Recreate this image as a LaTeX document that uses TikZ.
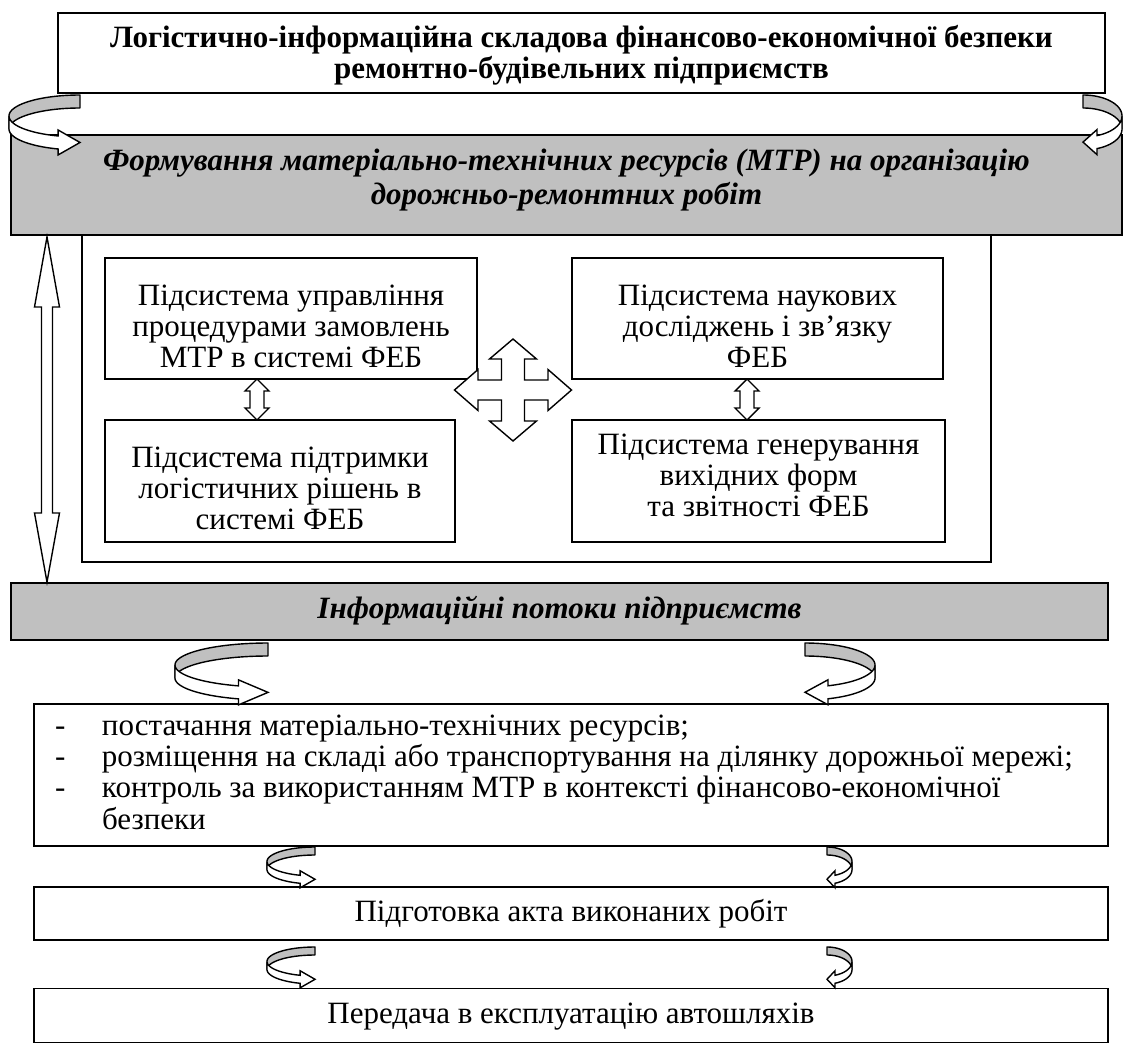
\documentclass[tikz,border=0pt]{standalone}
\usepackage{fontspec}
\setmainfont{Liberation Serif}
\usetikzlibrary{calc}
\definecolor{fillgray}{RGB}{192,192,192}
\tikzset{
  boxw/.style={draw=black, line width=1.6pt, fill=white, inner sep=0pt, outer sep=0pt},
  boxg/.style={draw=black, line width=1.6pt, fill=fillgray, inner sep=0pt, outer sep=0pt},
  txt/.style={inner sep=0pt, outer sep=0pt, font=\fontsize{31}{31.3}\selectfont},
  btxt/.style={inner sep=0pt, outer sep=0pt, font=\fontsize{31}{31}\selectfont\bfseries},
  bitxt/.style={inner sep=0pt, outer sep=0pt, font=\fontsize{31}{34}\selectfont\bfseries\itshape},
  arr/.style={draw=black, line width=1.4pt, fill=white, line join=miter},
  arrg/.style={draw=black, line width=1.4pt, fill=fillgray, line join=round},
}
% #1 cx, #2 cy, #3 a, #4 b, #5 w, #6 end angle, #7 head overhang, #8 side (1 left loop, -1 right loop)
\newcommand\curvarrow[8]{%
  \filldraw[arrg] plot[domain=90:180, samples=40] ({#1+(#8)*#3*cos(\x)},{#2-#4*sin(\x)})
     -- plot[domain=180:90, samples=40] ({#1+(#8)*#3*cos(\x)},{#2-#4*sin(\x)+#5}) -- cycle;
  \filldraw[arr] plot[domain=180:#6, samples=40] ({#1+(#8)*#3*cos(\x)},{#2-#4*sin(\x)})
     -- ++(0,-#7)
     -- ({#1},{#2-#4*sin(#6)+#5/2})
     -- ({#1+(#8)*#3*cos(#6)},{#2-#4*sin(#6)+#5+#7})
     -- ({#1+(#8)*#3*cos(#6)},{#2-#4*sin(#6)+#5})
     -- plot[domain=#6:180, samples=40] ({#1+(#8)*#3*cos(\x)},{#2-#4*sin(\x)+#5}) -- cycle;
}
\begin{document}
\begin{tikzpicture}[x=1pt,y=-1pt]
\useasboundingbox[fill=white] (0,0) rectangle (1124,1044);

% boxes
\node[boxw, minimum width=1047pt, minimum height=80pt] (top) at (581.5,53) {};
\node[boxw, minimum width=909pt, minimum height=327pt] (frame) at (536.5,398.5) {};
\node[boxg, minimum width=1111pt, minimum height=100pt] (form) at (566.5,185) {};
\node[boxw, minimum width=372pt, minimum height=121pt] (A) at (291,318.5) {};
\node[boxw, minimum width=350pt, minimum height=122pt] (B) at (280,481) {};
\node[boxw, minimum width=371pt, minimum height=121pt] (C) at (757.5,318.5) {};
\node[boxw, minimum width=373pt, minimum height=122pt] (D) at (758.5,481) {};
\node[boxg, minimum width=1097pt, minimum height=57pt] (flows) at (559.5,611.5) {};
\node[boxw, minimum width=1074pt, minimum height=142pt] (list) at (571,775) {};
\node[boxw, minimum width=1074pt, minimum height=53pt] (prep) at (571,913.5) {};
\node[boxw, minimum width=1074pt, minimum height=54pt] (pered) at (571,1015.5) {};

% texts
\node[btxt, anchor=base] (topT) at (581.5,47) {\begin{tabular}[t]{@{}c@{}}Логістично-інформаційна складова фінансово-економічної безпеки\\ремонтно-будівельних підприємств\end{tabular}};
\node[bitxt, anchor=base] (formT) at (566.5,170) {\begin{tabular}[t]{@{}c@{}}Формування матеріально-технічних ресурсів (МТР) на організацію\\дорожньо-ремонтних робіт\end{tabular}};
\node[txt, anchor=base] (AT) at (291,305) {\begin{tabular}[t]{@{}c@{}}Підсистема управління\\процедурами замовлень\\МТР в системі ФЕБ\end{tabular}};
\node[txt, anchor=base] (BT) at (280,467) {\begin{tabular}[t]{@{}c@{}}Підсистема підтримки\\логістичних рішень в\\системі ФЕБ\end{tabular}};
\node[txt, anchor=base] (CT) at (757.5,305) {\begin{tabular}[t]{@{}c@{}}Підсистема наукових\\досліджень і зв’язку\\ФЕБ\end{tabular}};
\node[txt, anchor=base] (DT) at (758.5,454) {\begin{tabular}[t]{@{}c@{}}Підсистема генерування\\вихідних форм\\та звітності ФЕБ\end{tabular}};
\node[bitxt, anchor=base] (flowsT) at (559.5,618) {Інформаційні потоки підприємств};
\node[txt, anchor=base west] (listT) at (55,735) {\begin{tabular}[t]{@{}l@{}l@{}}\makebox[47pt][l]{-}&постачання матеріально-технічних ресурсів;\\
\makebox[47pt][l]{-}&розміщення на складі або транспортування на ділянку дорожньої мережі;\\
\makebox[47pt][l]{-}&контроль за використанням МТР в контексті фінансово-економічної\\
&безпеки\end{tabular}};
\node[txt, anchor=base] (prepT) at (571,921) {Підготовка акта виконаних робіт};
\node[txt, anchor=base] (peredT) at (571,1023) {Передача в експлуатацію автошляхів};

% long double arrow between form and flows
\coordinate (la) at (47,237);
\coordinate (lb) at (47,582);
\draw[arr] (la) -- ($(la)+(12.5,70)$) -- ($(la)+(5.5,70)$) -- ($(lb)+(5.5,-69)$) -- ($(lb)+(12.5,-69)$) -- (lb)
  -- ($(lb)+(-12.5,-69)$) -- ($(lb)+(-5.5,-69)$) -- ($(la)+(-5.5,70)$) -- ($(la)+(-12.5,70)$) -- cycle;

% small double arrows A-B and C-D
\coordinate (ab1) at (A.south -| 257,0);
\coordinate (ab2) at (B.north -| 257,0);
\draw[arr] (ab1) -- ($(ab1)+(12,12)$) -- ($(ab1)+(7,12)$) -- ($(ab2)+(7,-12)$) -- ($(ab2)+(12,-12)$) -- (ab2)
  -- ($(ab2)+(-12,-12)$) -- ($(ab2)+(-7,-12)$) -- ($(ab1)+(-7,12)$) -- ($(ab1)+(-12,12)$) -- cycle;
\coordinate (cd1) at (C.south -| 747,0);
\coordinate (cd2) at (D.north -| 747,0);
\draw[arr] (cd1) -- ($(cd1)+(12,12)$) -- ($(cd1)+(7,12)$) -- ($(cd2)+(7,-12)$) -- ($(cd2)+(12,-12)$) -- (cd2)
  -- ($(cd2)+(-12,-12)$) -- ($(cd2)+(-7,-12)$) -- ($(cd1)+(-7,12)$) -- ($(cd1)+(-12,12)$) -- cycle;

% four-way arrow
\coordinate (cross) at (513,390);
\draw[arr, shift={(cross)}] (0,-51) -- (23.5,-31) -- (11.5,-31) -- (11.5,-10) -- (35,-10) -- (35,-20.5) -- (58.5,0)
  -- (35,20.5) -- (35,10) -- (11.5,10) -- (11.5,31) -- (23.5,31) -- (0,51) -- (-23.5,31) -- (-11.5,31) -- (-11.5,10)
  -- (-35,10) -- (-35,20.5) -- (-58.5,0) -- (-35,-20.5) -- (-35,-10) -- (-11.5,-10) -- (-11.5,-31) -- (-23.5,-31) -- cycle;

% curved arrows
\curvarrow{80}{116}{71}{21}{13}{252}{6}{1}
\curvarrow{1083}{116}{39}{21}{13}{249}{6}{-1}
\curvarrow{268}{665}{93}{22}{13}{251.5}{6}{1}
\curvarrow{805}{665}{70}{22}{13}{250.8}{6}{-1}
\curvarrow{315}{861.5}{48}{14.5}{8}{252}{4.5}{1}
\curvarrow{827}{861.5}{25}{14.5}{8}{251.3}{4.5}{-1}
\curvarrow{315}{961.5}{48}{14.5}{8}{252}{4.5}{1}
\curvarrow{827}{961.5}{25}{14.5}{8}{251.3}{4.5}{-1}
\end{tikzpicture}
\end{document}
